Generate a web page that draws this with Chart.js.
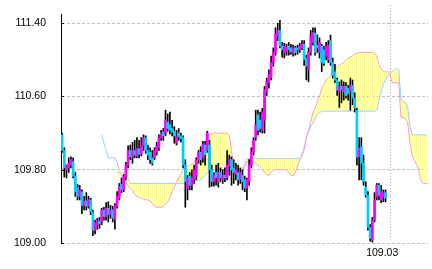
<!DOCTYPE html>
<html>
<head>
<meta charset="utf-8">
<script src="https://cdn.jsdelivr.net/npm/chart.js@4.4.0/dist/chart.umd.min.js"></script>
<style>
  html, body { margin: 0; padding: 0; background: #ffffff; }
  #wrap { width: 432px; height: 269px; position: relative; }
</style>
</head>
<body>
<div id="wrap"><canvas id="ichimokuChart"></canvas></div>
<script>
// candles, one per period
const opens = [
  110.18,110.01,109.80,109.82,109.85,109.89,109.73,109.60,109.51,109.56,
  109.41,109.46,109.40,109.47,109.34,109.14,109.20,109.24,109.23,109.36,
  109.29,109.38,109.31,109.36,109.26,109.40,109.49,109.64,109.58,109.72,
  109.85,110.01,109.94,110.01,109.95,110.03,109.97,110.06,110.15,110.01,
  109.99,109.93,109.93,109.99,110.04,110.15,110.21,110.20,110.32,110.29,
  110.25,110.22,110.09,110.20,110.17,110.15,109.85,109.60,109.73,109.63,
  109.69,109.73,109.91,109.99,109.93,110.07,110.01,110.07,109.80,109.67,
  109.77,109.67,109.77,109.69,109.74,109.71,109.84,109.91,109.82,109.75,
  109.77,109.69,109.74,109.69,109.60,109.67,109.85,109.99,110.15,110.40,
  110.34,110.23,110.34,110.65,110.75,110.81,110.97,111.08,111.26,111.32,
  111.15,111.08,111.09,111.15,111.13,111.07,111.13,111.13,111.11,111.13,
  111.17,111.02,110.89,111.08,111.19,111.29,111.16,111.08,111.15,111.11,
  111.04,111.00,111.21,110.97,110.87,110.78,110.65,110.71,110.65,110.71,
  110.69,110.65,110.72,110.58,110.45,109.94,110.05,109.87,109.61,109.52,
  109.17,109.03,109.25,109.50,109.63,109.47,109.50,109.55
];
const closes = [
  110.01,109.82,109.84,109.87,109.91,109.73,109.56,109.51,109.58,109.41,
  109.46,109.40,109.47,109.34,109.14,109.22,109.24,109.21,109.36,109.29,
  109.38,109.31,109.36,109.27,109.40,109.51,109.62,109.58,109.72,109.85,
  110.01,109.94,110.01,109.96,110.03,109.97,110.06,110.15,110.01,109.96,
  109.91,109.87,110.01,110.06,110.15,110.20,110.17,110.34,110.25,110.23,
  110.21,110.17,110.16,110.16,110.14,109.85,109.67,109.71,109.63,109.71,
  109.80,109.91,109.99,109.91,110.08,109.96,110.20,109.80,109.67,109.74,
  109.71,109.77,109.71,109.74,109.71,109.85,109.91,109.80,109.77,109.80,
  109.69,109.77,109.67,109.60,109.69,109.85,109.99,110.12,110.29,110.23,
  110.25,110.43,110.67,110.76,110.84,110.97,111.08,111.28,111.32,111.15,
  111.11,111.15,111.14,111.11,111.09,111.13,111.08,111.11,111.15,111.17,
  111.00,110.93,111.08,111.26,111.30,111.08,111.13,111.19,110.97,110.96,
  111.15,111.16,110.97,110.83,110.78,110.67,110.71,110.67,110.71,110.61,
  110.63,110.72,110.58,110.47,109.94,110.04,109.87,109.67,109.52,109.17,
  109.05,109.25,109.47,109.63,109.52,109.56,109.55,109.49
];
const highs = [
  110.20,110.04,109.85,109.93,109.94,109.93,109.77,109.64,109.63,109.58,
  109.51,109.55,109.51,109.49,109.36,109.25,109.27,109.28,109.38,109.39,
  109.44,109.45,109.41,109.40,109.43,109.56,109.65,109.71,109.75,109.88,
  110.06,110.07,110.10,110.12,110.15,110.12,110.15,110.18,110.17,110.07,
  110.04,110.01,110.04,110.10,110.18,110.23,110.25,110.45,110.41,110.43,
  110.34,110.27,110.23,110.25,110.20,110.17,109.91,109.74,109.77,109.80,
  109.85,109.93,110.01,110.05,110.11,110.11,110.22,110.12,109.85,109.77,
  109.85,109.87,109.82,109.80,109.82,110.01,109.96,109.94,109.91,109.87,
  109.85,109.82,109.80,109.73,109.71,109.91,110.04,110.15,110.45,110.45,
  110.43,110.47,110.71,110.80,110.89,111.04,111.13,111.35,111.40,111.43,
  111.19,111.18,111.17,111.19,111.17,111.16,111.15,111.16,111.18,111.21,
  111.21,111.05,111.13,111.32,111.35,111.35,111.27,111.24,111.17,111.15,
  111.19,111.21,111.27,111.02,110.95,110.80,110.76,110.78,110.76,110.75,
  110.72,110.80,110.78,110.64,110.47,110.15,110.15,109.96,109.67,109.56,
  109.20,109.28,109.55,109.65,109.65,109.63,109.58,109.58
];
const lows = [
  109.99,109.72,109.71,109.77,109.82,109.71,109.51,109.47,109.47,109.32,
  109.36,109.36,109.38,109.31,109.08,109.10,109.15,109.16,109.20,109.25,
  109.25,109.23,109.27,109.23,109.15,109.38,109.47,109.55,109.56,109.69,
  109.82,109.91,109.87,109.93,109.93,109.93,109.95,110.01,109.98,109.91,
  109.87,109.85,109.91,109.96,110.01,110.12,110.12,110.17,110.22,110.19,
  110.17,110.09,110.07,110.12,110.10,109.82,109.39,109.47,109.58,109.58,
  109.65,109.69,109.87,109.85,109.88,109.85,109.99,109.61,109.62,109.62,
  109.63,109.61,109.67,109.65,109.67,109.69,109.74,109.63,109.65,109.69,
  109.63,109.65,109.58,109.56,109.47,109.63,109.82,109.96,110.12,110.18,
  110.21,110.20,110.20,110.61,110.69,110.78,110.93,111.05,111.21,111.13,
  111.03,111.02,111.05,111.05,111.06,111.04,111.05,111.06,111.08,111.11,
  110.94,110.78,110.76,111.05,111.16,111.05,111.08,111.02,110.87,110.94,
  111.00,110.97,110.94,110.80,110.75,110.61,110.48,110.53,110.56,110.58,
  110.56,110.45,110.51,110.43,109.85,109.69,109.69,109.63,109.50,109.14,
  109.02,109.01,109.23,109.47,109.47,109.44,109.45,109.45
];

// cloud spans, shifted forward; index = period
const spanA = [
  null,null,null,null,null,null,null,null,null,null,
  null,null,null,null,null,null,null,null,null,null,
  null,null,null,null,null,109.77,109.77,109.74,109.71,109.67,
  109.62,109.60,109.58,109.53,109.51,109.50,109.49,109.48,109.47,109.47,
  109.46,109.43,109.40,109.39,109.39,109.39,109.40,109.43,109.45,109.49,
  109.56,109.61,109.67,109.71,109.75,109.80,109.82,109.84,109.85,109.86,
  109.88,109.93,109.99,110.05,110.09,110.12,110.16,110.18,110.19,110.20,
  110.20,110.20,110.20,110.20,110.20,110.20,110.17,110.01,109.82,109.74,
  109.71,109.74,109.80,109.84,109.88,109.91,109.89,109.88,109.87,109.85,
  109.83,109.80,109.77,109.75,109.74,109.77,109.80,109.80,109.80,109.80,
  109.80,109.80,109.80,109.77,109.74,109.73,109.77,109.84,109.91,109.97,
  110.04,110.15,110.23,110.32,110.42,110.48,110.54,110.60,110.69,110.73,
  110.78,110.80,110.83,110.88,110.91,110.92,110.94,110.96,110.97,111.00,
  111.02,111.03,111.04,111.06,111.07,111.08,111.08,111.08,111.08,111.08,
  111.08,111.08,111.07,111.04,110.95,110.90,110.87,110.87,110.87,110.85,
  110.75,110.75,110.75,110.75,110.37,110.37,110.36,110.32,110.12,109.96,
  109.91,109.86,109.80,109.69,109.65,109.65,109.65
];
const spanB = [
  null,null,null,null,null,null,null,null,null,null,
  null,null,null,null,null,null,null,null,110.18,110.09,
  110.01,109.93,109.93,109.93,109.93,109.88,109.80,109.77,109.77,109.77,
  109.71,109.65,109.65,109.65,109.65,109.65,109.65,109.65,109.65,109.65,
  109.65,109.65,109.65,109.65,109.65,109.65,109.65,109.65,109.65,109.65,
  109.65,109.65,109.65,109.65,109.65,109.65,109.65,109.65,109.65,109.67,
  109.68,109.68,109.68,109.69,109.71,109.74,109.77,109.79,109.80,109.80,
  109.80,109.80,109.80,109.80,109.80,109.80,109.80,109.80,109.80,109.80,
  109.80,109.80,109.82,109.85,109.92,109.92,109.92,109.92,109.92,109.92,
  109.92,109.92,109.92,109.92,109.92,109.92,109.92,109.92,109.92,109.92,
  109.92,109.92,109.92,109.92,109.92,109.92,109.92,109.92,109.92,109.95,
  110.01,110.15,110.21,110.27,110.31,110.36,110.40,110.42,110.44,110.44,
  110.44,110.44,110.44,110.44,110.44,110.44,110.44,110.44,110.44,110.44,
  110.44,110.44,110.44,110.44,110.44,110.44,110.44,110.44,110.44,110.44,
  110.44,110.44,110.44,110.45,110.56,110.65,110.73,110.78,110.82,110.85,
  110.87,110.89,110.91,110.89,110.58,110.54,110.54,110.49,110.29,110.18,
  110.18,110.18,110.18,110.18,110.18,110.18,110.18
];

// axes
const yTicks = [109.00, 109.80, 110.60, 111.40];
const xTickIndex = [145.5];
const xTickLabels = ['109.03'];
const dividerIndex = 149;

const UP = '#ff00ff';
const DOWN = '#00ccff';

function stripePattern() {
    const c = document.createElement('canvas');
    c.width = 2;
    c.height = 1;
    const g = c.getContext('2d');
    g.fillStyle = '#ffff99';
    g.fillRect(0, 0, 1, 1);
    return g.createPattern(c, 'repeat');
}

const extrasPlugin = {
    id: 'extras',
    beforeDatasetsDraw(chart) {
        const { ctx, chartArea, scales } = chart;
        const px = Math.round(scales.x.getPixelForValue(dividerIndex)) + 0.5;
        ctx.save();
        ctx.strokeStyle = '#a8a8a8';
        ctx.lineWidth = 1;
        ctx.setLineDash([1, 2]);
        ctx.beginPath();
        ctx.moveTo(px, 5);
        ctx.lineTo(px, chartArea.bottom - 5);
        ctx.stroke();
        ctx.restore();
    },
    afterDraw(chart) {
        const { ctx, chartArea, scales } = chart;
        ctx.save();
        ctx.strokeStyle = '#000000';
        ctx.lineWidth = 1;
        yTicks.forEach(v => {
            const py = Math.round(scales.y.getPixelForValue(v)) + 0.5;
            ctx.beginPath();
            ctx.moveTo(chartArea.left, py);
            ctx.lineTo(chartArea.left + 3, py);
            ctx.stroke();
        });
        ctx.restore();
    }
};

function initChart() {
    const ctx = document.getElementById('ichimokuChart').getContext('2d');
    const bodies = opens.map((o, i) => ({ x: i, y: [o, closes[i]] }));
    const wicks = lows.map((l, i) => ({ x: i, y: [l, highs[i]] }));
    const bodyColors = opens.map((o, i) => closes[i] >= o ? UP : DOWN);

    new Chart(ctx, {
        type: 'bar',
        data: {
            datasets: [{
                data: bodies,
                backgroundColor: bodyColors,
                barThickness: 2,
                minBarLength: 1,
                grouped: false,
                order: 0
            }, {
                data: wicks,
                backgroundColor: '#000000',
                barThickness: 1,
                grouped: false,
                order: 1
            }, {
                type: 'line',
                data: spanA.map((v, i) => ({ x: i, y: v })),
                borderColor: '#ff99cc',
                borderWidth: 1,
                pointRadius: 0,
                tension: 0,
                spanGaps: false,
                fill: '+1',
                backgroundColor: stripePattern(),
                order: 2
            }, {
                type: 'line',
                data: spanB.map((v, i) => ({ x: i, y: v })),
                borderColor: '#99ccff',
                borderWidth: 1,
                pointRadius: 0,
                tension: 0,
                spanGaps: false,
                fill: false,
                order: 3
            }]
        },
        options: {
            responsive: true,
            maintainAspectRatio: false,
            animation: false,
            layout: { padding: { top: 14, right: 4, left: 0, bottom: 0 } },
            plugins: {
                legend: { display: false },
                tooltip: { enabled: false },
                filler: { drawTime: 'beforeDatasetsDraw' }
            },
            scales: {
                x: {
                    type: 'linear',
                    min: -0.5,
                    max: 166.3,
                    offset: false,
                    grid: { display: false, drawTicks: false },
                    border: { display: false },
                    afterBuildTicks: scale => {
                        scale.ticks = xTickIndex.map(v => ({ value: v }));
                    },
                    afterFit: scale => { scale.height = 26; },
                    ticks: {
                        autoSkip: false,
                        maxRotation: 0,
                        padding: 4,
                        color: '#000000',
                        font: { family: 'Liberation Sans', size: 10.5 },
                        callback: (v, i) => xTickLabels[i]
                    }
                },
                y: {
                    min: 109.0,
                    max: 111.5,
                    afterBuildTicks: scale => {
                        scale.ticks = yTicks.map(v => ({ value: v }));
                    },
                    afterFit: scale => { scale.width = 61; },
                    grid: {
                        color: '#c0c0c0',
                        drawTicks: true,
                        tickLength: 15,
                        tickColor: 'rgba(0,0,0,0)'
                    },
                    border: { display: true, color: '#000000', width: 1, dash: [3, 2] },
                    ticks: {
                        padding: 0,
                        color: '#000000',
                        font: { family: 'Liberation Sans', size: 10.5 },
                        callback: v => v.toFixed(2)
                    }
                }
            }
        },
        plugins: [extrasPlugin]
    });
}

window.addEventListener('load', () => {
    initChart();
});
</script>
</body>
</html>
